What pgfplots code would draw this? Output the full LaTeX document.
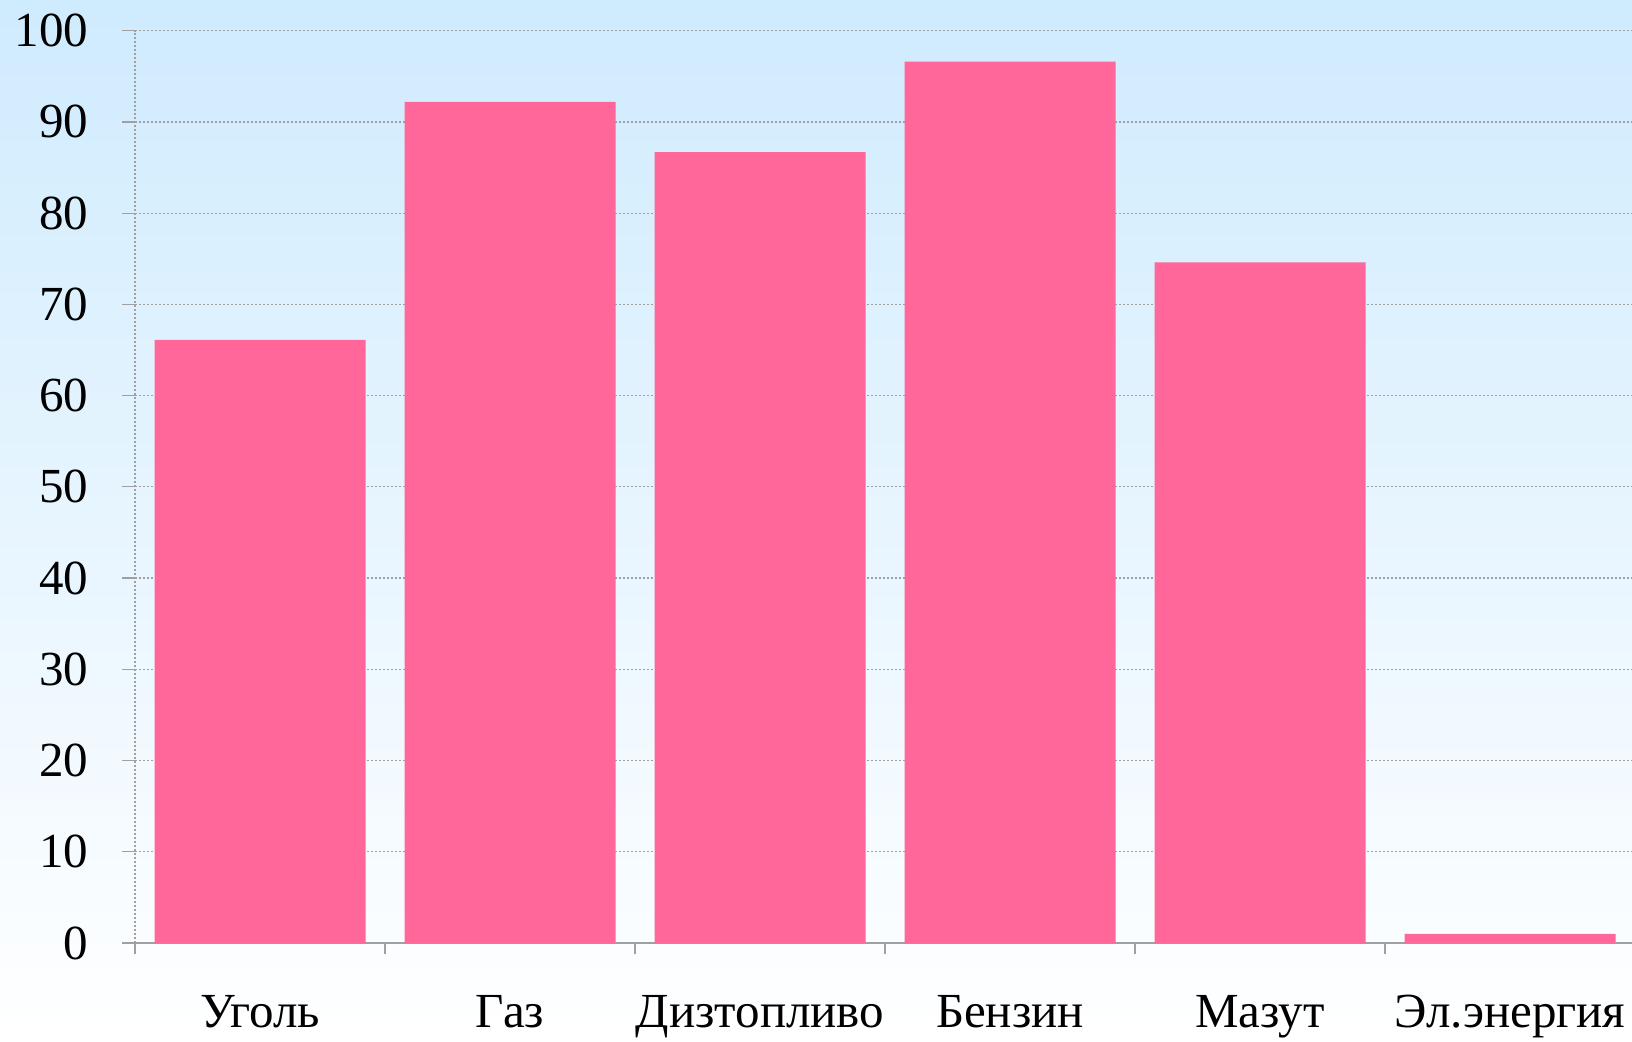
\documentclass[border=0pt]{standalone}
\usepackage{fontspec}
\setmainfont{Liberation Serif}
\usepackage{pgfplots}
\pgfplotsset{compat=1.18}
\definecolor{barpink}{HTML}{FF6699}
\definecolor{bgtop}{HTML}{CFEBFE}
\definecolor{gridgray}{HTML}{A0A0A0}
\begin{document}
\begin{tikzpicture}
\path[use as bounding box] (0,0) rectangle (816pt,520.5pt);
\shade[top color=bgtop, bottom color=white] (0,0) rectangle (816pt,520.5pt);
\begin{axis}[
  at={(67.5pt,49pt)}, anchor=south west,
  scale only axis, width=750pt, height=456.15pt,
  xmin=-0.5, xmax=5.5, ymin=0, ymax=100,
  axis x line*=bottom, axis y line*=left,
  axis line style={gridgray, line width=0.6pt, -},
  y axis line style={dash pattern=on 1pt off 1pt},
  ytick={0,10,...,100},
  xtick={0,...,5},
  xticklabels={Уголь,Газ,Дизтопливо,Бензин,Мазут,Эл.энергия},
  minor xtick={-0.5,0.5,...,5.5},
  major x tick style={draw=none},
  tick align=outside,
  major tick length=6.25pt,
  minor tick length=5.5pt,
  tick style={gridgray, line width=0.6pt},
  ymajorgrids,
  major grid style={gridgray, dash pattern=on 1pt off 1pt, line width=0.6pt},
  /pgf/number format/assume math mode=true,
  tick label style={font=\fontsize{24.5}{28}\selectfont, text=black},
  yticklabel style={anchor=east, inner sep=0pt, xshift=-17pt},
  xticklabel style={anchor=base, inner sep=0pt, yshift=-36pt},
]
\addplot[ybar, bar width=105.5pt, fill=barpink, draw=none] coordinates {(0,66.1) (1,92.2) (2,86.7) (3,96.6) (4,74.6) (5,1.0)};
\end{axis}
\end{tikzpicture}
\end{document}
